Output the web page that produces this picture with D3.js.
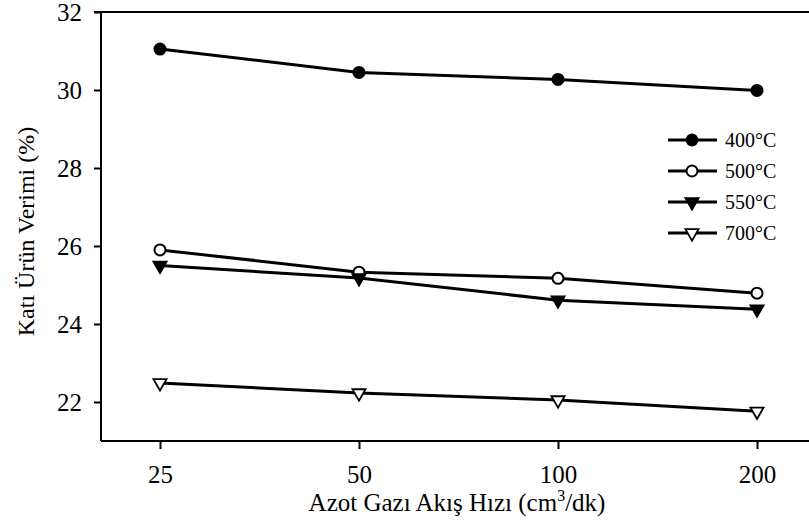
<!DOCTYPE html>
<html>
<head>
<meta charset="utf-8">
<script src="https://cdn.jsdelivr.net/npm/d3@7"></script>
<style>
  html, body { margin: 0; padding: 0; background: #fff; }
  svg { display: block; }
  text { font-family: "Liberation Serif", "Times New Roman", serif; fill: #000; }
</style>
</head>
<body>
<svg id="chart" width="809" height="530"></svg>
<script>
// Nitrogen flow rates (cm3/dk)
const flowRates = [25, 50, 100, 200];
// Solid product yield (%) for each pyrolysis temperature
const yield400 = [31.05, 30.45, 30.27, 29.99];
const yield500 = [25.90, 25.33, 25.17, 24.79];
const yield550 = [25.50, 25.18, 24.61, 24.38];
const yield700 = [22.49, 22.23, 22.05, 21.76];
const seriesNames = ["400°C", "500°C", "550°C", "700°C"];
const yTicks = [22, 24, 26, 28, 30, 32];

const seriesList = [
  { name: seriesNames[0], values: yield400, shape: "circle", fill: "#000" },
  { name: seriesNames[1], values: yield500, shape: "circle", fill: "#fff" },
  { name: seriesNames[2], values: yield550, shape: "tri", fill: "#000" },
  { name: seriesNames[3], values: yield700, shape: "tri", fill: "#fff" }
];

const svg = d3.select("#chart");
const plot = { left: 101, right: 809, top: 12, bottom: 441 };

const x = d3.scaleLog().base(2).domain([25, 200]).range([160, 757]);
const y = d3.scaleLinear().domain([21, 32]).range([plot.bottom, plot.top]);

// top frame line
svg.append("line")
  .attr("x1", 94).attr("x2", plot.right)
  .attr("y1", plot.top).attr("y2", plot.top)
  .attr("stroke", "#000").attr("stroke-width", 2);

// y axis
const yAxis = svg.append("g")
  .attr("transform", `translate(${plot.left},0)`)
  .call(d3.axisLeft(y).tickValues(yTicks).tickSize(7).tickPadding(12).tickSizeOuter(0));
yAxis.select(".domain").attr("stroke-width", 2).attr("d", `M0,${plot.top}V${plot.bottom}`);
yAxis.selectAll(".tick line").attr("stroke-width", 2);
yAxis.selectAll(".tick text").style("font-size", "25px").style("font-family", "Liberation Serif");

// x axis
const xAxis = svg.append("g")
  .attr("transform", `translate(0,${plot.bottom})`)
  .call(d3.axisBottom(x).tickValues(flowRates).tickFormat(d3.format("d")).tickSize(8).tickSizeOuter(0));
xAxis.select(".domain").attr("stroke-width", 2).attr("d", `M${plot.left},0H${plot.right}`);
xAxis.selectAll(".tick line").attr("stroke-width", 2);
xAxis.selectAll(".tick text").attr("y", 42).attr("dy", 0)
  .style("font-size", "25px").style("font-family", "Liberation Serif");

// axis titles
const xt = svg.append("text")
  .attr("x", (plot.left + plot.right) / 2 + 2).attr("y", 511)
  .attr("text-anchor", "middle").style("font-size", "25px");
xt.append("tspan").text("Azot Gazı Akış Hızı (cm");
xt.append("tspan").attr("dy", -10).style("font-size", "16px").text("3");
xt.append("tspan").attr("dy", 10).text("/dk)");

svg.append("text")
  .attr("transform", `translate(34,${(plot.top + plot.bottom) / 2 + 5}) rotate(-90)`)
  .attr("text-anchor", "middle").style("font-size", "24px")
  .text("Katı Ürün Verimi (%)");

// marker drawing
const tri = d3.symbol().type(d3.symbolTriangle).size(75);
function drawMarker(g, s) {
  if (s.shape === "circle") {
    g.append("circle").attr("r", 5.5)
      .attr("fill", s.fill).attr("stroke", "#000").attr("stroke-width", 2);
  } else {
    g.append("path").attr("d", tri).attr("transform", "rotate(180)")
      .attr("fill", s.fill).attr("stroke", "#000").attr("stroke-width", 1.8);
  }
}

const line = d3.line().x((d, i) => x(flowRates[i])).y(d => y(d));

seriesList.forEach(s => {
  svg.append("path").datum(s.values)
    .attr("d", line).attr("fill", "none")
    .attr("stroke", "#000").attr("stroke-width", 3);
  s.values.forEach((v, i) => {
    const g = svg.append("g").attr("transform", `translate(${x(flowRates[i])},${y(v)})`);
    drawMarker(g, s);
  });
});

// legend
const legend = svg.append("g");
seriesList.forEach((s, i) => {
  const ly = 140 + i * 31;
  const row = legend.append("g").attr("transform", `translate(0,${ly})`);
  row.append("line").attr("x1", 668).attr("x2", 717).attr("y1", 0).attr("y2", 0)
    .attr("stroke", "#000").attr("stroke-width", 3);
  const m = row.append("g").attr("transform", "translate(692,0)");
  drawMarker(m, s);
  row.append("text").attr("x", 725).attr("y", 0).attr("dy", "0.35em")
    .style("font-size", "20px").text(s.name);
});
</script>
</body>
</html>
